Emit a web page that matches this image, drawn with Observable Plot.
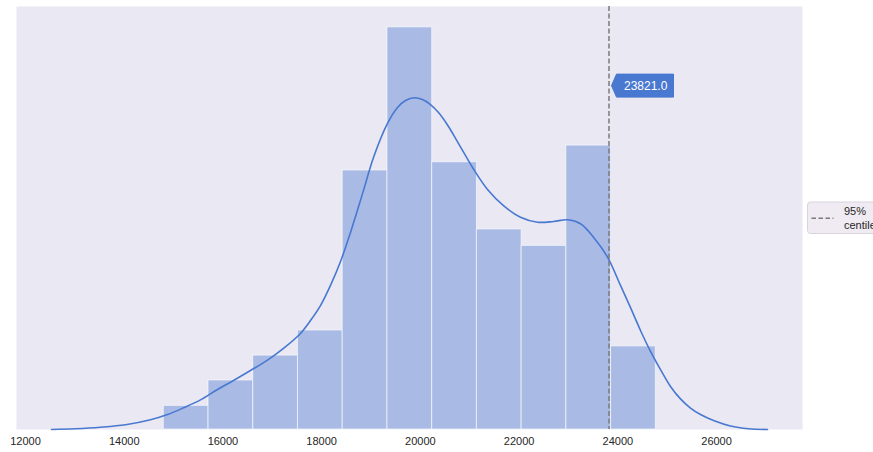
<!DOCTYPE html>
<html><head><meta charset="utf-8">
<script src="https://cdn.jsdelivr.net/npm/d3@7"></script>
<script src="https://cdn.jsdelivr.net/npm/@observablehq/plot@0.6"></script>
<style>body{margin:0;background:#fff}</style>
</head><body><div id="chart"></div>
<script>
// Histogram bins (edges) and heights (density units, arbitrary scale)
const binEdges = [14802, 15708, 16614, 17520, 18426, 19333, 20239, 21145, 22051, 22957, 23863, 24769];
const binHeights = [0.95, 1.97, 2.97, 3.98, 10.41, 16.16, 10.74, 8.04, 7.38, 11.41, 3.34];
// KDE curve
const kdeX = [12527, 13013, 13519, 14026, 14532, 14877, 15201, 15545, 15890, 16214, 16558, 16903, 17227, 17571, 17774, 17976, 18179, 18382, 18584, 18848, 19050, 19334, 19537, 19699, 19881, 20043, 20205, 20367, 20550, 20671, 20874, 21076, 21360, 21684, 22028, 22373, 22697, 22980, 23244, 23507, 23791, 24054, 24257, 24459, 24662, 24864, 25067, 25269, 25472, 25675, 25938, 26282, 26647, 27032];
const kdeY = [0, 0.03, 0.09, 0.19, 0.39, 0.60, 0.87, 1.19, 1.61, 1.97, 2.37, 2.79, 3.26, 3.86, 4.38, 4.98, 5.79, 6.75, 7.92, 9.61, 10.93, 12.30, 12.94, 13.22, 13.33, 13.26, 13.06, 12.74, 12.24, 11.84, 11.15, 10.47, 9.65, 9.00, 8.53, 8.33, 8.36, 8.43, 8.27, 7.73, 6.93, 5.79, 4.90, 3.98, 3.14, 2.41, 1.73, 1.23, 0.86, 0.60, 0.36, 0.14, 0.03, 0];
const xTicks = [12000, 14000, 16000, 18000, 20000, 22000, 24000, 26000];
const centile95 = 23821.0;
const centileLabel = "23821.0";
const labelLevel = 13.8;
const legendLabels = ["95%", "centile"];

const bins = binHeights.map((h, i) => ({x1: binEdges[i], x2: binEdges[i + 1], h}));
const kde = kdeX.map((x, i) => ({x, y: kdeY[i]}));

const W = 873, H = 452, mT = 6, mB = 23, mL = 16, mR = 71;
const blue = "#4878d0";

const chart = Plot.plot({
  width: W, height: H, marginLeft: mL, marginRight: mR, marginTop: mT, marginBottom: mB,
  style: {fontFamily: "'Liberation Sans', Arial, sans-serif", fontSize: "11px", color: "#262626", background: "#fff", overflow: "visible"},
  x: {domain: [11818, 27741], ticks: xTicks, tickFormat: d3.format("d"), tickSize: 0, tickPadding: 8, label: null},
  y: {domain: [0, 17], axis: null},
  marks: [
    Plot.frame({fill: "#eae8f3", stroke: "none"}),
    Plot.rectY(bins, {x1: "x1", x2: "x2", y: "h", fill: blue, fillOpacity: 0.4, stroke: "#fff", strokeOpacity: 0.6, strokeWidth: 1}),
    Plot.line(kde, {x: "x", y: "y", stroke: blue, strokeWidth: 1.6, curve: "catmull-rom"}),
    Plot.ruleX([centile95], {stroke: "#7a7a7a", strokeWidth: 1.5, strokeDasharray: "5,2.5"})
  ]
});
document.getElementById("chart").appendChild(chart);

// annotation label
const sx = chart.scale("x"), sy = chart.scale("y");
const px = sx.apply(centile95), py = sy.apply(labelLevel);
const svg = d3.select(chart);
const g = svg.append("g");
g.append("path")
  .attr("d", `M${px + 3},${py} L${px + 8},${py - 11.5} L${px + 65},${py - 11.5} L${px + 65},${py + 11.5} L${px + 8},${py + 11.5} Z`)
  .attr("fill", blue).attr("stroke", blue).attr("stroke-linejoin", "round");
g.append("text").attr("x", px + 15.5).attr("y", py).attr("dy", "0.35em").attr("text-anchor", "start")
  .attr("fill", "#fff").attr("font-size", "12px").text(centileLabel);

// legend
const lx = W - mR + 5.5, ly = (mT + H - mB) / 2;
const lg = svg.append("g");
lg.append("rect").attr("x", lx).attr("y", ly - 15.5).attr("width", 90).attr("height", 31.5).attr("rx", 3)
  .attr("fill", "#f0ebf3").attr("stroke", "#d8d3dd");
lg.append("line").attr("x1", lx + 4).attr("x2", lx + 26).attr("y1", ly + 0.8).attr("y2", ly + 0.8)
  .attr("stroke", "#7a7a7a").attr("stroke-width", 1.5).attr("stroke-dasharray", "4.5,2.5");
legendLabels.forEach((t, i) => {
  lg.append("text").attr("x", lx + 36.5).attr("y", ly - 6.5 + i * 14.5).attr("dy", "0.35em").attr("text-anchor", "start")
    .attr("fill", "#262626").attr("font-size", "11px").text(t);
});
</script></body></html>
